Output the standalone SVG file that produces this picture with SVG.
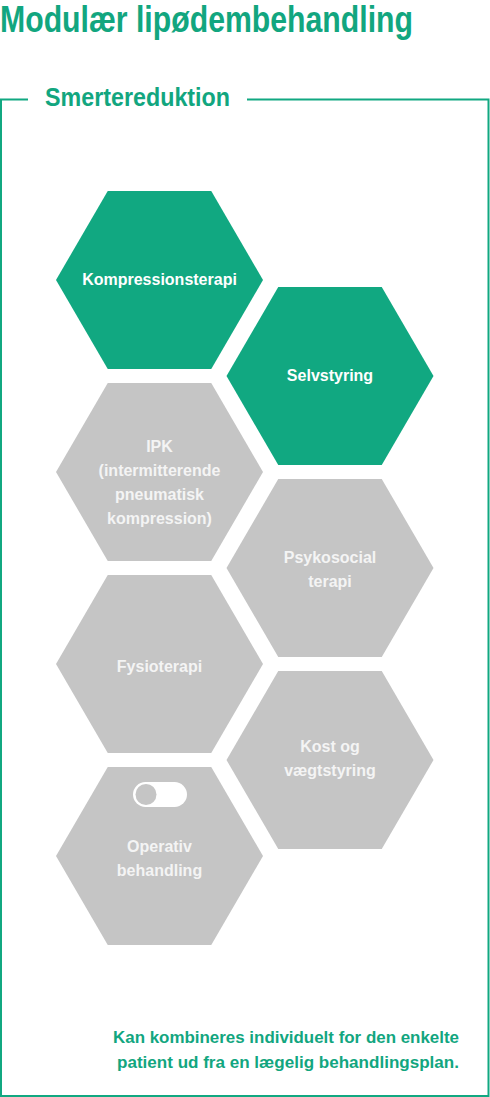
<svg xmlns="http://www.w3.org/2000/svg" xmlns:xlink="http://www.w3.org/1999/xlink" width="490" height="1097" viewBox="0 0 490 1097">
  <style>
    .green { fill: #11a881; }
    .gray { fill: #c5c5c5; }
    .frame { fill: none; stroke: #11a881; stroke-width: 2; }
    .lbl { font-family: "Liberation Sans", Arial, sans-serif; font-weight: bold; font-size: 16px; fill: #ffffff; text-anchor: middle; }
    .glbl { fill: #f4f4f4; }
    .title { font-family: "Liberation Sans", Arial, sans-serif; font-weight: bold; fill: #12a67f; }
    .note { font-family: "Liberation Sans", Arial, sans-serif; font-weight: bold; font-size: 16px; fill: #12a67f; text-anchor: end; }
  </style>
  <defs>
    <polygon id="hex" points="-103.5,0 -51.75,-89 51.75,-89 103.5,0 51.75,89 -51.75,89"/>
  </defs>
  <rect width="490" height="1097" fill="#ffffff"/>

  <text class="title" x="0" y="32" font-size="36" textLength="413" lengthAdjust="spacingAndGlyphs">Modulær lipødembehandling</text>

  <g id="frame">
    <path class="frame" d="M28,99.5 H1 V1096 H488.5 V99.5 H247"/>
    <text class="title" x="45" y="106" font-size="25" textLength="185" lengthAdjust="spacingAndGlyphs">Smertereduktion</text>
  </g>

  <g id="connectors"/>

  <g id="kompressionsterapi">
    <use xlink:href="#hex" href="#hex" x="159.5" y="280" class="green"/>
    <text class="lbl" x="159.5" y="285">Kompressionsterapi</text>
  </g>
  <g id="selvstyring">
    <use xlink:href="#hex" href="#hex" x="330" y="376" class="green"/>
    <text class="lbl" x="330" y="381">Selvstyring</text>
  </g>
  <g id="ipk">
    <use xlink:href="#hex" href="#hex" x="159.5" y="472" class="gray"/>
    <text class="lbl glbl" x="159.5" y="452">IPK</text>
    <text class="lbl glbl" x="159.5" y="476">(intermitterende</text>
    <text class="lbl glbl" x="159.5" y="500">pneumatisk</text>
    <text class="lbl glbl" x="159.5" y="524">kompression)</text>
  </g>
  <g id="psykosocial">
    <use xlink:href="#hex" href="#hex" x="330" y="568" class="gray"/>
    <text class="lbl glbl" x="330" y="563">Psykosocial</text>
    <text class="lbl glbl" x="330" y="587">terapi</text>
  </g>
  <g id="fysioterapi">
    <use xlink:href="#hex" href="#hex" x="159.5" y="664" class="gray"/>
    <text class="lbl glbl" x="159.5" y="672">Fysioterapi</text>
  </g>
  <g id="kost">
    <use xlink:href="#hex" href="#hex" x="330" y="760" class="gray"/>
    <text class="lbl glbl" x="330" y="752">Kost og</text>
    <text class="lbl glbl" x="330" y="776">vægtstyring</text>
  </g>
  <g id="operativ">
    <use xlink:href="#hex" href="#hex" x="159.5" y="856" class="gray"/>
    <rect x="133" y="782" width="54" height="25" rx="12.5" fill="#ffffff"/>
    <circle cx="146" cy="794.5" r="10.5" fill="#c5c5c5"/>
    <text class="lbl glbl" x="159.5" y="852">Operativ</text>
    <text class="lbl glbl" x="159.5" y="876">behandling</text>
  </g>

  <g id="note">
    <text class="note" x="459" y="1043" textLength="346" lengthAdjust="spacingAndGlyphs">Kan kombineres individuelt for den enkelte</text>
    <text class="note" x="459" y="1068" textLength="342" lengthAdjust="spacingAndGlyphs">patient ud fra en lægelig behandlingsplan.</text>
  </g>
</svg>
